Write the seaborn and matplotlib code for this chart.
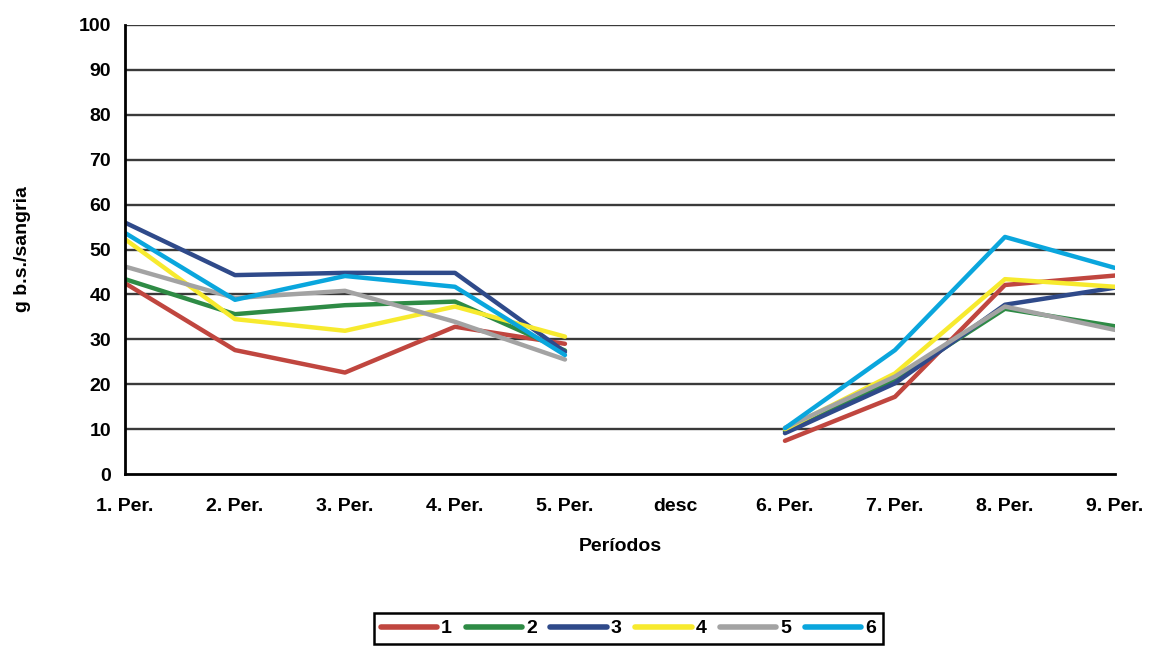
import numpy as np
import pandas as pd
import matplotlib
matplotlib.use("Agg")
import matplotlib.pyplot as plt
import seaborn as sns
from matplotlib.lines import Line2D

categories = ["1. Per.", "2. Per.", "3. Per.", "4. Per.", "5. Per.", "desc",
              "6. Per.", "7. Per.", "8. Per.", "9. Per."]
nan = np.nan
s1 = [42.5, 27.6, 22.6, 32.8, 29.0, nan, 7.4, 17.2, 42.1, 44.2]
s2 = [43.4, 35.6, 37.6, 38.4, 27.5, nan, 9.5, 21.0, 36.8, 32.9]
s3 = [56.0, 44.3, 44.8, 44.8, 27.2, nan, 9.1, 20.2, 37.7, 41.5]
s4 = [52.3, 34.5, 31.9, 37.3, 30.6, nan, 10.0, 22.4, 43.4, 41.7]
s5 = [46.2, 39.2, 40.8, 33.9, 25.5, nan, 10.3, 21.7, 37.3, 32.1]
s6 = [53.7, 38.8, 44.1, 41.7, 26.5, nan, 10.2, 27.6, 52.8, 45.9]
series_names = ["1", "2", "3", "4", "5", "6"]
series_values = [s1, s2, s3, s4, s5, s6]
colors = ["#c0463f", "#2e8b45", "#2f4a8a", "#f7ea2e", "#a3a3a3", "#0aa6dd"]

rows = []
for name, vals in zip(series_names, series_values):
    seg = 0
    for i, v in enumerate(vals):
        if np.isnan(v):
            seg += 1
            continue
        rows.append({"pos": i, "val": v, "serie": name, "seg": seg})
df = pd.DataFrame(rows)

sns.set_style("white")
plt.rcParams["font.family"] = ["Liberation Sans", "DejaVu Sans"]
plt.rcParams["font.weight"] = "bold"
plt.rcParams["text.color"] = "black"
plt.rcParams["axes.labelcolor"] = "black"

fig = plt.figure(figsize=(11.53, 6.49), dpi=100)
ax = fig.add_axes([0.1084, 0.2696, 0.8586, 0.6919])

for y in range(10, 101, 10):
    ax.axhline(y, color="#3a3a3a", lw=1.7, zorder=1)

sns.lineplot(data=df, x="pos", y="val", hue="serie", units="seg",
             estimator=None, palette=colors, hue_order=series_names,
             linewidth=3.2, ax=ax, zorder=3, legend=False)

fs = 14
ax.set_xlim(0, 9)
ax.set_ylim(0, 100)
ax.set_xticks(range(len(categories)))
ax.set_xticklabels(categories, fontsize=fs, fontweight="bold")
ax.set_yticks(range(0, 101, 10))
ax.set_yticklabels([str(v) for v in range(0, 101, 10)], fontsize=fs, fontweight="bold")
ax.tick_params(axis="y", direction="inout", length=8, width=1.5, pad=6,
               colors="black", labelcolor="black")
ax.tick_params(axis="x", direction="out", length=4, width=1.5, pad=13,
               colors="black", labelcolor="black")
for sp in ["top", "right"]:
    ax.spines[sp].set_visible(False)
for sp in ["left", "bottom"]:
    ax.spines[sp].set_color("black")
    ax.spines[sp].set_linewidth(2)
    ax.spines[sp].set_zorder(5)

ax.set_xlabel("Períodos", fontsize=fs, fontweight="bold", labelpad=17, color="black")
ax.set_ylabel("g b.s./sangria", fontsize=fs, fontweight="bold", labelpad=34, color="black")

handles = [Line2D([0], [0], color=c, lw=4) for c in colors]
leg = fig.legend(handles, series_names, loc="upper center",
                 bbox_to_anchor=(0.545, 0.0555), ncol=6, frameon=True,
                 fancybox=False, edgecolor="black", framealpha=1,
                 handlelength=2.9, handletextpad=0.2, columnspacing=0.7,
                 borderpad=0.35, borderaxespad=0,
                 prop={"weight": "bold", "size": fs})
leg.get_frame().set_linewidth(1.8)
for t in leg.get_texts():
    t.set_color("black")

fig.savefig("out.png", dpi=100)
